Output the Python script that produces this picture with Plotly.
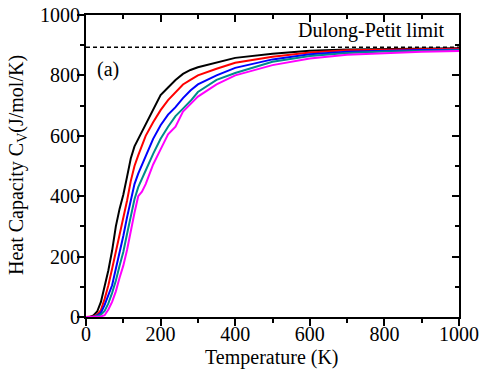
import plotly.graph_objects as go

T = [0, 10, 20, 30, 40, 50, 60, 70, 80, 90, 100, 110, 120, 130, 140, 150, 160, 180, 200,
     220, 240, 260, 280, 300, 350, 400, 500, 600, 700, 800, 900, 1000]

cv_black = [0, 0, 5, 18, 50, 100, 155, 220, 300, 358, 405, 464, 525, 565, 590, 612, 640, 690, 735,
            760, 785, 805, 818, 827, 842, 858, 872, 882, 886, 888, 889, 890]
cv_red = [0, 0, 2, 8, 23, 60, 105, 160, 215, 275, 330, 385, 450, 500, 535, 570, 600, 645, 685,
          718, 745, 770, 785, 800, 822, 842, 862, 876, 883, 886, 887, 888]
cv_blue = [0, 0, 0, 5, 14, 40, 70, 105, 160, 210, 268, 330, 385, 440, 475, 505, 535, 590, 635,
           670, 695, 725, 750, 770, 800, 825, 853, 870, 878, 882, 884, 885]
cv_teal = [0, 0, 0, 3, 8, 20, 45, 80, 120, 170, 215, 275, 330, 390, 430, 460, 485, 540, 590,
           630, 665, 690, 715, 745, 785, 808, 845, 864, 874, 879, 882, 883]
cv_magenta = [0, 0, 0, 0, 2, 6, 25, 50, 85, 130, 170, 222, 290, 345, 400, 415, 440, 505, 555,
              605, 630, 680, 705, 730, 770, 800, 834, 856, 868, 874, 878, 881]

series = [cv_black, cv_red, cv_blue, cv_teal, cv_magenta]
colors = ["#000000", "#ff0000", "#0000ff", "#008b8b", "#ff00ff"]

dp_limit = 893
x_range = [0, 1000]
y_range = [0, 1000]
x_ticks = [0, 200, 400, 600, 800, 1000]
y_ticks = [0, 200, 400, 600, 800, 1000]

FONT = "Liberation Serif, Times New Roman, serif"
W, H = 481, 369
L, R, TOP, B = 86, 22, 15, 30          # paper margins
PLOT_BOTTOM = 317                        # pixel row of the frame's bottom
PW, PH = W - L - R, H - TOP - B
Y_DOMAIN = [(H - B - PLOT_BOTTOM) / PH, 1]
LABEL_AXIS_POS = (H - B - 320) / PH      # x tick-label axis sits just below the frame

fig = go.Figure()
fig.add_trace(go.Scatter(x=x_range, y=[dp_limit, dp_limit], mode="lines",
                         line=dict(color="black", width=1.6, dash="4px,3px"),
                         showlegend=False, hoverinfo="skip"))
for vals, c in zip(series, colors):
    fig.add_trace(go.Scatter(x=T, y=vals, mode="lines", line=dict(color=c, width=2),
                             showlegend=False))

for xa, ya in [("x2", "y2"), ("x3", "y3")]:
    fig.add_trace(go.Scatter(x=[0], y=[0], xaxis=xa, yaxis=ya, mode="markers",
                             marker=dict(opacity=0), showlegend=False, hoverinfo="skip"))

common = dict(showgrid=False, zeroline=False, linecolor="black", linewidth=2,
              automargin=False, tickfont=dict(family=FONT, size=20, color="black"))
tk = dict(ticklen=7, tickwidth=1.5, tickcolor="black")

def minor(direction):
    return dict(dtick=100, ticks=direction, ticklen=4, tickwidth=1.5, tickcolor="black")

fig.update_layout(
    width=W, height=H,
    margin=dict(l=L, r=R, t=TOP, b=B),
    plot_bgcolor="rgba(0,0,0,0)", paper_bgcolor="white",
    font=dict(family=FONT, color="black"),
    xaxis=dict(range=x_range, tickvals=x_ticks, ticks="", showline=False,
               anchor="free", position=LABEL_AXIS_POS, **common),
    yaxis=dict(range=y_range, domain=Y_DOMAIN, tickvals=y_ticks, ticks="", showline=True, **common),
    xaxis2=dict(range=x_range, overlaying="x", side="top", anchor="y2", tickvals=x_ticks,
                ticks="inside", showticklabels=False, showline=True, minor=minor("inside"),
                **tk, **common),
    yaxis2=dict(range=y_range, domain=Y_DOMAIN, overlaying="y", side="right", anchor="x2",
                tickvals=y_ticks, ticks="inside", showticklabels=False, showline=True,
                minor=minor("inside"), **tk, **common),
    xaxis3=dict(range=x_range, overlaying="x", side="bottom", anchor="y3", tickvals=x_ticks,
                ticks="outside", showticklabels=False, showline=True, minor=minor("outside"),
                **tk, **common),
    yaxis3=dict(range=y_range, domain=Y_DOMAIN, overlaying="y", side="left", anchor="x3",
                tickvals=y_ticks, ticks="outside", showticklabels=False, showline=True,
                minor=minor("outside"), **tk, **common),
)

fig.add_annotation(x=(272 - L) / PW, y=(H - B - 357) / PH, xref="paper", yref="paper",
                   text="Temperature (K)", showarrow=False, xanchor="center", yanchor="middle",
                   font=dict(family=FONT, size=20, color="black"))
fig.add_annotation(x=-(L - 18) / PW, y=(H - B - 165) / PH, xref="paper", yref="paper",
                   text="Heat Capacity C<sub>V</sub>(J/mol/K)", textangle=-90, showarrow=False,
                   xanchor="center", yanchor="middle", font=dict(family=FONT, size=20, color="black"))
fig.add_annotation(x=968, y=950, xref="x", yref="y", text="Dulong-Petit limit", showarrow=False,
                   xanchor="right", yanchor="middle", font=dict(family=FONT, size=20, color="black"))
fig.add_annotation(x=25, y=818, xref="x", yref="y", text="(a)", showarrow=False,
                   xanchor="left", yanchor="middle", font=dict(family=FONT, size=20, color="black"))

fig.write_html("out.html")
